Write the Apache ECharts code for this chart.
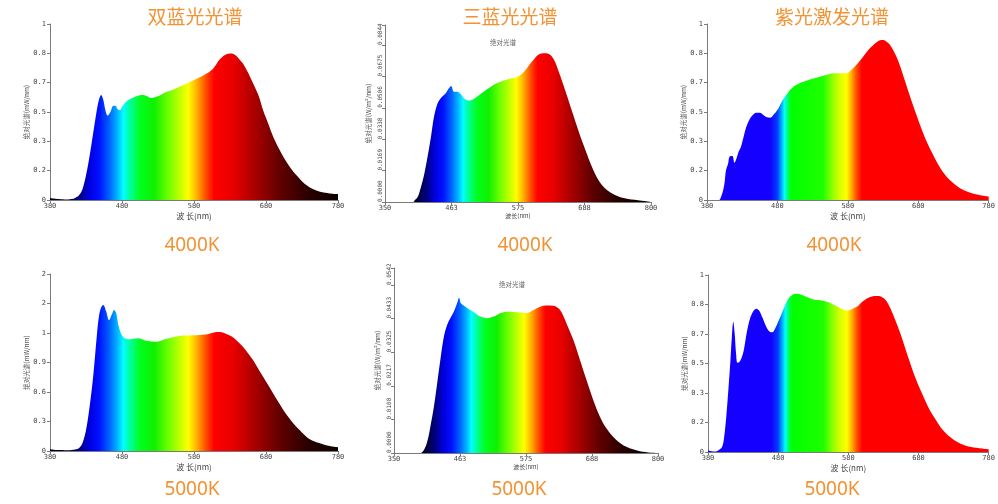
<!DOCTYPE html>
<html><head><meta charset="utf-8">
<script src="https://cdn.jsdelivr.net/npm/echarts@6/dist/echarts.min.js"></script>
<style>html,body{margin:0;padding:0;background:#fff}#c{width:998px;height:504px}</style>
</head><body><div id="c"></div>
<script>
// ---------- DATA ----------
// 双蓝光光谱 4000K (relative, axis 0..1)
const dual4000Wl  = [380,385,390,395,400,405,410,415,420,425,430,435,440,445,448,451,454,457,460,464,468,471,474,477,481,486,492,500,509,515,520,528,535,542,550,565,575,588,600,607,615,620,625,630,635,639,645,648,655,662,670,676,683,690,697,704,711,718,727,736,745,755,765,772,780];
const dual4000Val = [0.012,0.008,0.005,0.004,0.003,0.003,0.006,0.012,0.025,0.06,0.14,0.25,0.38,0.51,0.57,0.597,0.57,0.51,0.48,0.50,0.535,0.535,0.515,0.51,0.535,0.56,0.575,0.59,0.597,0.59,0.58,0.587,0.60,0.615,0.625,0.653,0.672,0.697,0.725,0.748,0.795,0.815,0.828,0.833,0.83,0.818,0.79,0.776,0.725,0.663,0.59,0.51,0.435,0.36,0.30,0.246,0.2,0.16,0.12,0.085,0.062,0.047,0.04,0.036,0.034];
// 双蓝光光谱 5000K (axis 0..1.8)
const dual5000Wl  = [380,385,390,395,400,405,410,415,420,425,430,435,440,445,448,451,454,458,462,466,469,472,476,482,491,502,514,528,542,560,579,597,605,613,620,625,634,641,648,655,662,669,676,683,690,697,704,711,718,727,736,745,755,765,780];
const dual5000Val = [0.017,0.012,0.01,0.01,0.008,0.008,0.01,0.015,0.027,0.078,0.21,0.45,0.76,1.17,1.37,1.46,1.485,1.42,1.33,1.39,1.434,1.40,1.25,1.156,1.136,1.146,1.12,1.112,1.142,1.17,1.176,1.186,1.20,1.21,1.205,1.19,1.156,1.11,1.06,0.995,0.925,0.84,0.756,0.67,0.586,0.50,0.417,0.345,0.28,0.21,0.146,0.105,0.078,0.055,0.037];
// 三蓝光光谱 4000K (W/nm)
const tri4000Wl  = [350,380,398,400,405.5,411,416.7,422,427.8,433,439,444,452.8,458,462,466.7,472,478,484,491.7,497,505.5,516.7,527.8,539,550,561,572,583,594,603,611,619,628,636,644,655.6,666.7,677.8,689,700,711,722,739,755.6,778,800];
const tri4000Val = [0,0,0,0.0008,0.0028,0.0082,0.0154,0.0243,0.0351,0.0459,0.0531,0.0557,0.0584,0.0611,0.0624,0.0593,0.0593,0.0581,0.0557,0.0545,0.0549,0.0566,0.0593,0.0617,0.0638,0.0652,0.0663,0.067,0.0692,0.0736,0.0772,0.0794,0.0799,0.0794,0.0763,0.070,0.0593,0.0485,0.0378,0.028,0.019,0.0118,0.0074,0.0038,0.002,0.0009,0];
// 三蓝光光谱 5000K (W/nm)
const tri5000Wl  = [350,380,395,401,406.6,412,418,423.6,429,435,440.5,446,452,457.5,461,464,471.7,480,488.6,497,508.5,520,531,542,553.7,568,576,587.7,599,610,621.6,633,644,655.6,667,678,689.6,701,712,729,746,769,800];
const tri5000Val = [0,0,0,0.001,0.0036,0.0085,0.0149,0.0225,0.030,0.0375,0.0413,0.0435,0.0456,0.0483,0.0501,0.0483,0.0472,0.0461,0.0451,0.044,0.0435,0.044,0.0451,0.0456,0.0455,0.0453,0.0451,0.0461,0.0472,0.0476,0.0475,0.0461,0.0418,0.0365,0.030,0.0236,0.0171,0.0117,0.008,0.0042,0.002,0.0006,0];
// 紫光激发光谱 4000K (axis 0..1)
const vio4000Wl  = [380,390,397,400,403,405,407,410,412,416,419,422,425,428,432,436,440,445,450,455,460,465,470,475,480,485,490,495,500,510,520,530,540,550,560,570,578,585,590,600,610,620,628,633,640,650,660,670,680,690,700,710,720,730,740,750,760,770,780];
const vio4000Val = [0,0,0,0.019,0.057,0.10,0.17,0.208,0.246,0.25,0.212,0.237,0.275,0.30,0.36,0.417,0.455,0.483,0.496,0.496,0.483,0.47,0.468,0.487,0.511,0.55,0.583,0.61,0.634,0.66,0.676,0.689,0.70,0.712,0.72,0.72,0.72,0.74,0.758,0.805,0.856,0.894,0.909,0.905,0.88,0.805,0.69,0.568,0.455,0.35,0.265,0.19,0.133,0.095,0.066,0.047,0.034,0.025,0.019];
// 紫光激发光谱 5000K (axis 0..1)
const vio5000Wl  = [380,385,390,395,400,403,406,409,412,414,416,418,420,422,425,428,431,435,440,445,449,453,458,463,468,472,476,480,485,490,495,500,505,510,520,530,540,550,560,570,578,585,592,600,610,620,627,635,645,655,665,675,685,695,705,715,725,740,755,780];
const vio5000Val = [0.008,0.004,0.003,0.01,0.028,0.085,0.198,0.35,0.52,0.65,0.736,0.67,0.557,0.504,0.51,0.534,0.575,0.67,0.755,0.798,0.81,0.798,0.755,0.708,0.68,0.677,0.70,0.736,0.783,0.83,0.868,0.887,0.894,0.892,0.877,0.862,0.858,0.849,0.83,0.81,0.80,0.807,0.82,0.849,0.874,0.881,0.877,0.849,0.764,0.66,0.538,0.425,0.33,0.245,0.18,0.123,0.085,0.047,0.028,0.015];

// tick labels
const relYLabels   = ['0','0.2','0.3','0.5','0.7','0.8','1'];
const dual5000YLabels = ['0','0.3','0.6','0.9','1','2','2'];
const tri4000YLabels = ['0.0000','0.0169','0.0338','0.0506','0.0675','0.0844'];
const tri5000YLabels = ['0.0000','0.0108','0.0217','0.0325','0.0433','0.0542'];
const xLabels380 = ['380','480','580','680','780'];
const xLabels350 = ['350','463','575','688','800'];

const titles = ['双蓝光光谱','三蓝光光谱','紫光激发光谱'];
const cctTop = '4000K', cctBottom = '5000K';

// ---------- STYLE ----------
const darkStops = [[350,'#000010'],[380,'#000018'],[405,'#000038'],[420,'#000080'],[435,'#0000e0'],[448,'#0010ff'],[462,'#0060ff'],[474,'#00b8ff'],[482,'#00ffff'],[492,'#00ff90'],[505,'#00ff20'],[525,'#10f000'],[545,'#70ff00'],[560,'#c0ff00'],[572,'#ffff00'],[584,'#ffb000'],[596,'#ff5000'],[608,'#ff0000'],[635,'#e80000'],[665,'#a80000'],[700,'#600000'],[740,'#280000'],[780,'#0c0000'],[800,'#060000']];
const violetStops = [[380,'#1400ff'],[470,'#1400ff'],[480,'#0040ff'],[486,'#00b0ff'],[490,'#00ffff'],[495,'#00ff60'],[500,'#00ff00'],[545,'#20ff00'],[558,'#90ff00'],[570,'#e0ff00'],[578,'#ffff00'],[585,'#ffb000'],[592,'#ff5000'],[600,'#ff0000'],[780,'#ff0000']];

function grad(stops, min, max) {
  const cs = stops.filter(s => s[0] >= min && s[0] <= max)
    .map(s => ({offset: (s[0]-min)/(max-min), color: s[1]}));
  return new echarts.graphic.LinearGradient(0,0,1,0,cs);
}

const labelFont = '"DejaVu Sans Mono", monospace';
const cjk = '"Noto Sans CJK SC", sans-serif';

const panels = [
  {wl:dual4000Wl, v:dual4000Val, grid:{left:50,top:24,width:288,height:176}, xmin:380,xmax:780,xint:100,xl:xLabels380, ymax:1, yint:1/6, yl:relYLabels, stops:darkStops, type:'a'},
  {wl:tri4000Wl, v:tri4000Val, grid:{left:385,top:25,width:266,height:177}, xmin:350,xmax:800,xint:112.5,xl:xLabels350, ymax:0.0844*177/157, yint:0.01688, yl:tri4000YLabels, stops:darkStops, type:'b'},
  {wl:vio4000Wl, v:vio4000Val, grid:{left:707,top:24,width:286,height:176}, xmin:380,xmax:780,xint:100,xl:xLabels380, ymax:1, yint:1/6, yl:relYLabels, stops:violetStops, type:'a'},
  {wl:dual5000Wl, v:dual5000Val, grid:{left:50,top:274,width:288,height:177}, xmin:380,xmax:780,xint:100,xl:xLabels380, ymax:1.8, yint:0.3, yl:dual5000YLabels, stops:darkStops, type:'a'},
  {wl:tri5000Wl, v:tri5000Val, grid:{left:394,top:268,width:264,height:185}, xmin:350,xmax:800,xint:112.5,xl:xLabels350, ymax:0.0542*185/168, yint:0.01084, yl:tri5000YLabels, stops:darkStops, type:'b'},
  {wl:vio5000Wl, v:vio5000Val, grid:{left:708,top:275,width:285,height:177}, xmin:380,xmax:780,xint:100,xl:xLabels380, ymax:1, yint:1/6, yl:relYLabels, stops:violetStops, type:'a'}
];

const axisLine = {lineStyle:{color:'#7a7a7a', width:1}};
const axisTick = {show:true, length:3, lineStyle:{color:'#7a7a7a'}};

const grids = [], xAxes = [], yAxes = [], series = [];
panels.forEach((p, i) => {
  grids.push(Object.assign({containLabel:false}, p.grid));
  xAxes.push({
    type:'value', gridIndex:i, min:p.xmin, max:p.xmax, interval:p.xint,
    axisLine, axisTick, splitLine:{show:false},
    name: p.type==='a' ? '波 长(nm)' : '波长(nm)', nameLocation:'middle',
    nameGap: p.type==='a' ? 12 : 8,
    nameTextStyle:{fontSize: p.type==='a' ? 8 : 6, color:'#444', fontFamily:cjk},
    axisLabel:{fontSize:7, color:'#444', margin:3, fontFamily:labelFont,
      formatter:(val)=>{ const k=Math.round((val-p.xmin)/p.xint); return p.xl[k]!==undefined?p.xl[k]:''; }}
  });
  const ya = {
    type:'value', gridIndex:i, min:0, max:p.ymax, interval:p.yint,
    axisLine:Object.assign({show:true},axisLine), axisTick, splitLine:{show:false},
    name: p.type==='a' ? '绝对光谱(mW/nm)' : '绝对光谱(W/m²/nm)',
    nameLocation:'middle', nameGap: p.type==='a' ? 15 : 13,
    nameTextStyle:{fontSize:6.5, color:'#555', fontFamily:cjk},
    axisLabel:{fontSize:7, color:'#444', margin:4, fontFamily:labelFont,
      formatter:(val)=>{ const k=Math.round(val/p.yint); return (p.yl[k]!==undefined && Math.abs(val-k*p.yint)<p.yint*0.05)?p.yl[k]:''; }}
  };
  if (p.type==='b') {
    ya.axisLabel.rotate = 90; ya.axisLabel.align='left'; ya.axisLabel.verticalAlign='bottom';
    ya.axisLabel.fontSize = 6; ya.axisLabel.margin = 2;
  }
  yAxes.push(ya);
  series.push({
    type:'line', xAxisIndex:i, yAxisIndex:i, symbol:'none', smooth:0.35,
    data: p.wl.map((w,j)=>[w,p.v[j]]), lineStyle:{width:0, opacity:0},
    areaStyle:{opacity:1, color:grad(p.stops,p.xmin,p.xmax)}, silent:true, clip:true
  });
});

function txt(x, y, text, size, color, font) {
  return {type:'text', x, y, silent:true, style:{text, fill:color, font: size+'px '+font,
    align:'center', verticalAlign:'middle', textAlign:'center', textVerticalAlign:'middle'}};
}
const orange = '#F29233';
const nf = '"Noto Sans", sans-serif';
const graphics = [
  txt(195,17,titles[0],19,orange,cjk), txt(510,17,titles[1],19,orange,cjk), txt(832,17,titles[2],19,orange,cjk),
  txt(192,246,cctTop,19,orange,nf), txt(525,246,cctTop,19,orange,nf), txt(834,246,cctTop,19,orange,nf),
  txt(192,490,cctBottom,19,orange,nf), txt(519,490,cctBottom,19,orange,nf), txt(832,490,cctBottom,19,orange,nf),
  txt(503,43,'绝对光谱',6.5,'#666',cjk), txt(512,285,'绝对光谱',6.5,'#666',cjk)
];

const chart = echarts.init(document.getElementById('c'), null, {renderer:'canvas'});
chart.setOption({animation:false, backgroundColor:'#fff', grid:grids, xAxis:xAxes, yAxis:yAxes, series, graphic:graphics});
</script></body></html>
